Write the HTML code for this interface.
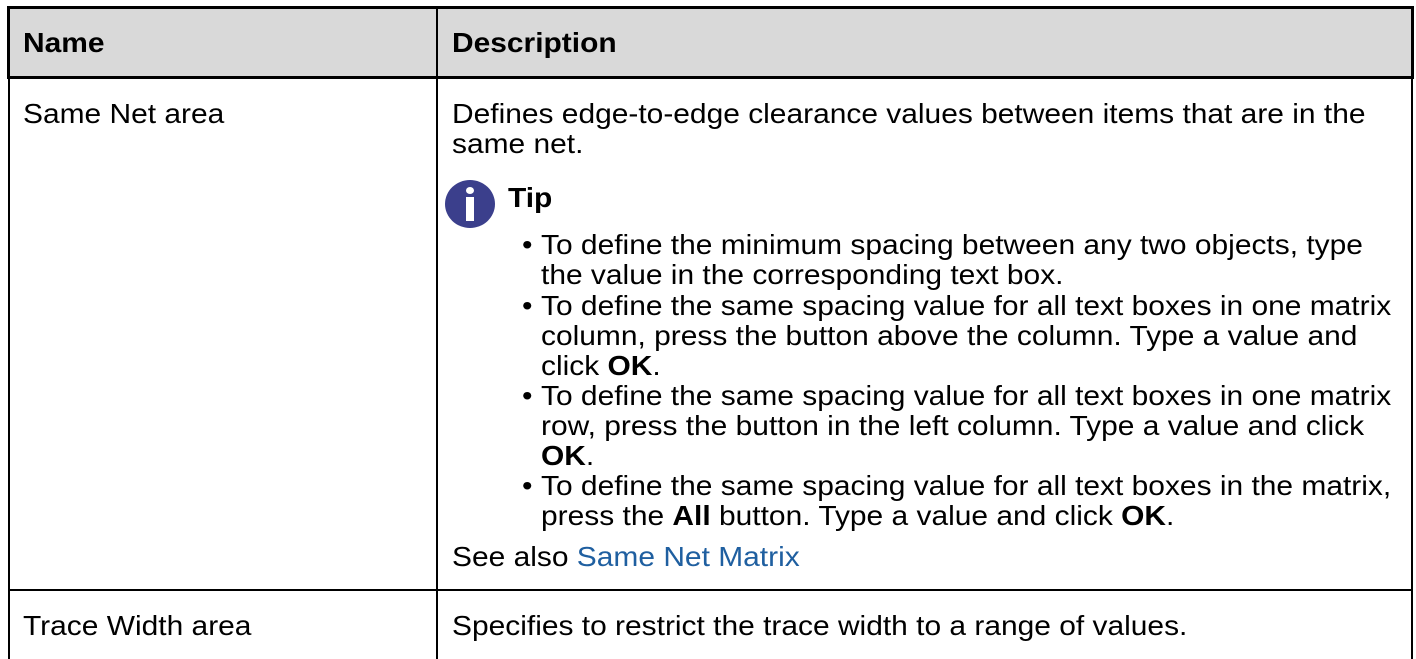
<!DOCTYPE html>
<html><head><meta charset="utf-8"><style>
body{margin:0;width:1416px;height:654px;background:#fff;overflow:hidden;position:relative;font-family:"Liberation Sans",Arial,sans-serif;font-size:28px;color:#000}
.a{position:absolute;white-space:nowrap;line-height:30px;transform:scaleX(1.069);transform-origin:0 50%}
.l{position:absolute;background:#000}
b{font-weight:bold}
.lk{color:#1f5fa0}
</style></head><body>
<div style="position:absolute;left:9px;top:8px;width:1403px;height:70px;background:#d9d9d9"></div>
<div class="l" style="left:7px;top:6px;width:1407px;height:3px"></div>
<div class="l" style="left:7px;top:6px;width:3px;height:73px"></div>
<div class="l" style="left:1411px;top:6px;width:3px;height:73px"></div>
<div class="l" style="left:7px;top:76px;width:1407px;height:3px"></div>
<div class="l" style="left:8px;top:79px;width:2px;height:580px"></div>
<div class="l" style="left:1411px;top:79px;width:2px;height:580px"></div>
<div class="l" style="left:436px;top:9px;width:2px;height:650px"></div>
<div class="l" style="left:8px;top:589px;width:1405px;height:2px"></div>

<div class="a" style="left:23px;top:28px"><b>Name</b></div>
<div class="a" style="left:452px;top:28px"><b>Description</b></div>

<div class="a" style="left:23px;top:99px">Same Net area</div>
<div class="a" style="left:452px;top:99px">Defines edge-to-edge clearance values between items that are in the</div>
<div class="a" style="left:452px;top:129px">same net.</div>

<div style="position:absolute;left:445px;top:180px;width:50px;height:48px;border-radius:50%;background:#3b3f8c"></div>
<div style="position:absolute;left:466px;top:187px;width:8px;height:7px;border-radius:50%;background:#fff"></div>
<div style="position:absolute;left:466px;top:197px;width:8px;height:24px;background:#fff"></div>
<div class="a" style="left:508px;top:183px"><b>Tip</b></div>

<div class="a" style="left:522px;top:230px">•</div>
<div class="a" style="left:541px;top:230px">To define the minimum spacing between any two objects, type</div>
<div class="a" style="left:541px;top:260px">the value in the corresponding text box.</div>
<div class="a" style="left:522px;top:291px">•</div>
<div class="a" style="left:541px;top:291px">To define the same spacing value for all text boxes in one matrix</div>
<div class="a" style="left:541px;top:321px">column, press the button above the column. Type a value and</div>
<div class="a" style="left:541px;top:351px">click <b>OK</b>.</div>
<div class="a" style="left:522px;top:381px">•</div>
<div class="a" style="left:541px;top:381px">To define the same spacing value for all text boxes in one matrix</div>
<div class="a" style="left:541px;top:411px">row, press the button in the left column. Type a value and click</div>
<div class="a" style="left:541px;top:441px"><b>OK</b>.</div>
<div class="a" style="left:522px;top:471px">•</div>
<div class="a" style="left:541px;top:471px">To define the same spacing value for all text boxes in the matrix,</div>
<div class="a" style="left:541px;top:501px">press the <b>All</b> button. Type a value and click <b>OK</b>.</div>

<div class="a" style="left:452px;top:542px">See also <span class="lk">Same Net Matrix</span></div>

<div class="a" style="left:23px;top:611px">Trace Width area</div>
<div class="a" style="left:452px;top:611px">Specifies to restrict the trace width to a range of values.</div>
</body></html>
